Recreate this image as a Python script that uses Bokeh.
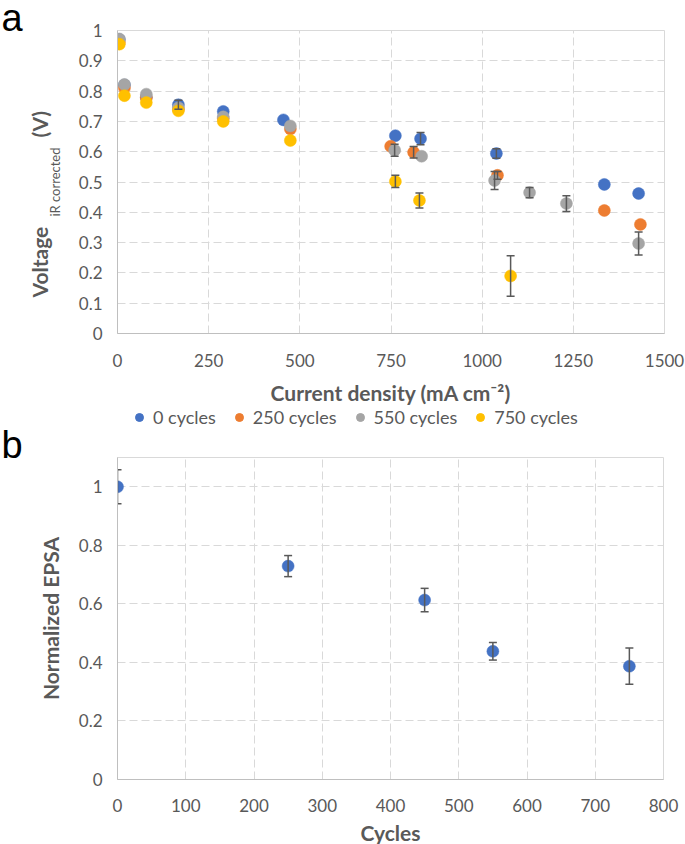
from bokeh.plotting import figure
from bokeh.models import (ColumnDataSource, Whisker, TeeHead, Legend, LegendItem, Title,
                          FixedTicker, CustomJSTickFormatter, Range1d)
from bokeh.layouts import column
from bokeh.embed import file_html
from bokeh.resources import INLINE

# ---------------- Panel a data ----------------
series_names = ["0 cycles", "250 cycles", "550 cycles", "750 cycles"]
series_colors = ["#4472C4", "#ED7D31", "#A5A5A5", "#FFC000"]

x_0 = [5, 19, 79, 167, 290, 455, 762, 831, 1039, 1335, 1429]
v_0 = [0.970, 0.820, 0.780, 0.755, 0.733, 0.705, 0.653, 0.643, 0.594, 0.492, 0.462]
e_0 = [0, 0, 0, 0.015, 0, 0, 0, 0.020, 0.016, 0, 0]

x_250 = [5, 19, 79, 167, 290, 474, 749, 812, 1042, 1335, 1434]
v_250 = [0.960, 0.810, 0.778, 0.740, 0.710, 0.675, 0.618, 0.598, 0.522, 0.406, 0.360]
e_250 = [0, 0, 0, 0, 0, 0, 0, 0.019, 0.013, 0, 0]

x_550 = [5, 19, 79, 167, 290, 474, 760, 834, 1034, 1130, 1231, 1429]
v_550 = [0.972, 0.822, 0.790, 0.745, 0.715, 0.685, 0.605, 0.585, 0.505, 0.465, 0.429, 0.297]
e_550 = [0, 0, 0, 0, 0, 0, 0.020, 0, 0.030, 0.017, 0.026, 0.038]

x_750 = [5, 19, 79, 167, 290, 474, 762, 828, 1078]
v_750 = [0.955, 0.785, 0.762, 0.735, 0.700, 0.637, 0.502, 0.439, 0.190]
e_750 = [0, 0, 0, 0, 0, 0, 0.020, 0.025, 0.067]

x_ticks_a = [0, 250, 500, 750, 1000, 1250, 1500]
y_ticks_a = [0, 0.1, 0.2, 0.3, 0.4, 0.5, 0.6, 0.7, 0.8, 0.9, 1.0]

# ---------------- Panel b data ----------------
cycles = [0, 250, 450, 550, 750]
epsa = [1.000, 0.729, 0.613, 0.438, 0.387]
epsa_err = [0.058, 0.036, 0.040, 0.030, 0.062]

x_ticks_b = [0, 100, 200, 300, 400, 500, 600, 700, 800]
y_ticks_b = [0, 0.2, 0.4, 0.6, 0.8, 1.0]

# ---------------- styles ----------------
FONT = "Lato"
TICK_COLOR = "#595959"
GRID_COLOR = "#D9D9D9"
ERR_COLOR = "#595959"

fmt = CustomJSTickFormatter(code="return Number(tick.toFixed(2)).toString();")


def style(p, xt, yt):
    p.xaxis.ticker = FixedTicker(ticks=xt)
    p.yaxis.ticker = FixedTicker(ticks=yt)
    p.yaxis.formatter = fmt
    for ax in (p.xaxis[0], p.yaxis[0]):
        ax.major_tick_line_color = None
        ax.minor_tick_line_color = None
        ax.major_tick_out = 0
        ax.major_tick_in = 0
        ax.minor_tick_out = 0
        ax.axis_line_color = "#BFBFBF"
        ax.major_label_text_font = FONT
        ax.major_label_text_font_size = "17px"
        ax.major_label_text_color = TICK_COLOR
        ax.axis_label_text_font = FONT
        ax.axis_label_text_font_size = "21px"
        ax.axis_label_text_font_style = "bold"
        ax.axis_label_text_color = TICK_COLOR
    for g in (p.xgrid[0], p.ygrid[0]):
        g.grid_line_color = GRID_COLOR
        g.grid_line_dash = "8 4"
        g.grid_line_width = 1
    p.outline_line_color = GRID_COLOR
    p.background_fill_color = "white"
    p.border_fill_color = "white"


def add_errors(p, xs, ys, es):
    sel = [i for i, e in enumerate(es) if e > 0]
    if not sel:
        return
    src = ColumnDataSource(dict(
        x=[xs[i] for i in sel],
        upper=[ys[i] + es[i] for i in sel],
        lower=[ys[i] - es[i] for i in sel],
    ))
    w = Whisker(base="x", upper="upper", lower="lower", source=src, dimension="height",
                line_color=ERR_COLOR, line_width=1.5, level="glyph",
                upper_head=TeeHead(size=8, line_color=ERR_COLOR, line_width=1.5),
                lower_head=TeeHead(size=8, line_color=ERR_COLOR, line_width=1.5))
    p.add_layout(w)


# ---------------- Figure a ----------------
p1 = figure(frame_width=547, frame_height=303, output_backend="svg", toolbar_location=None,
            x_range=Range1d(0, 1500), y_range=Range1d(0, 1.0),
            min_border_left=117, min_border_right=21, min_border_top=30, min_border_bottom=75)
style(p1, x_ticks_a, y_ticks_a)
p1.xaxis.axis_label = "Current density (mA cm\u207b\u00b2)"
p1.xaxis.major_label_standoff = 20
p1.xaxis.axis_label_standoff = 10
p1.yaxis.major_label_standoff = 15
# subscript part of the y title as the axis label itself
p1.yaxis.axis_label = "iR corrected"
p1.yaxis.axis_label_text_font_size = "13px"
p1.yaxis.axis_label_text_font_style = "normal"
p1.yaxis.axis_label_standoff = 13

all_series = [(x_0, v_0, e_0), (x_250, v_250, e_250), (x_550, v_550, e_550), (x_750, v_750, e_750)]
renderers = []
for (xs, ys, es), col in zip(all_series, series_colors):
    add_errors(p1, xs, ys, es)
    r = p1.scatter(xs, ys, size=12, fill_color=col, line_color=col, line_width=0.5)
    renderers.append(r)

# main part of the y title
p1.add_layout(Title(text="Voltage" + "\u2003" * 5 + "\u2002" + "(V)", align="left", offset=36,
                    standoff=-17, text_font=FONT, text_font_size="21px",
                    text_font_style="bold", text_color=TICK_COLOR), "left")

# panel letter "a"
p1.add_layout(Title(text="a", align="left", offset=-116, standoff=-16,
                    text_font="Liberation Sans", text_font_size="38px",
                    text_font_style="normal", text_color="black"), "above")

# ---------------- Legend strip of panel a ----------------
pl = figure(frame_width=685, frame_height=20, output_backend="svg", toolbar_location=None,
            x_range=Range1d(0, 685), y_range=Range1d(0, 20),
            x_axis_type=None, y_axis_type=None,
            min_border_left=0, min_border_right=0, min_border_top=0, min_border_bottom=0)
pl.outline_line_color = None
pl.grid.visible = False
pl.background_fill_color = "white"
pl.border_fill_color = "white"
# legend keys of figure a (same styles as its series; the single point lies outside the view)
leg_renderers = [pl.scatter([-100], [-100], size=12, fill_color=c, line_color=c) for c in series_colors]
legend = Legend(items=[LegendItem(label=n, renderers=[r]) for n, r in zip(series_names, leg_renderers)],
                orientation="horizontal", location=(129, 0),
                glyph_width=20, glyph_height=20, label_standoff=4, spacing=13,
                padding=0, margin=0, border_line_color=None, background_fill_alpha=0,
                label_text_font=FONT, label_text_font_size="18px", label_text_color=TICK_COLOR)
pl.add_layout(legend)

# ---------------- Figure b ----------------
p2 = figure(frame_width=546, frame_height=322, output_backend="svg", toolbar_location=None,
            x_range=Range1d(0, 800), y_range=Range1d(0, 1.1),
            min_border_left=117, min_border_right=22, min_border_top=29, min_border_bottom=65)
style(p2, x_ticks_b, y_ticks_b)
p2.xaxis.axis_label = "Cycles"
p2.yaxis.axis_label = "Normalized EPSA"
p2.xaxis.major_label_standoff = 19
p2.xaxis.axis_label_standoff = 5
p2.yaxis.major_label_standoff = 15
p2.yaxis.axis_label_standoff = 13

# panel letter "b"
p2.add_layout(Title(text="b", align="left", offset=-116, standoff=-17,
                    text_font="Liberation Sans", text_font_size="38px",
                    text_font_style="normal", text_color="black"), "above")

add_errors(p2, cycles, epsa, epsa_err)
p2.scatter(cycles, epsa, size=12, fill_color="#4472C4", line_color="#4472C4", line_width=0.5)

layout = column(p1, pl, p2, spacing=0)
open("out.html", "w").write(file_html(layout, INLINE))
